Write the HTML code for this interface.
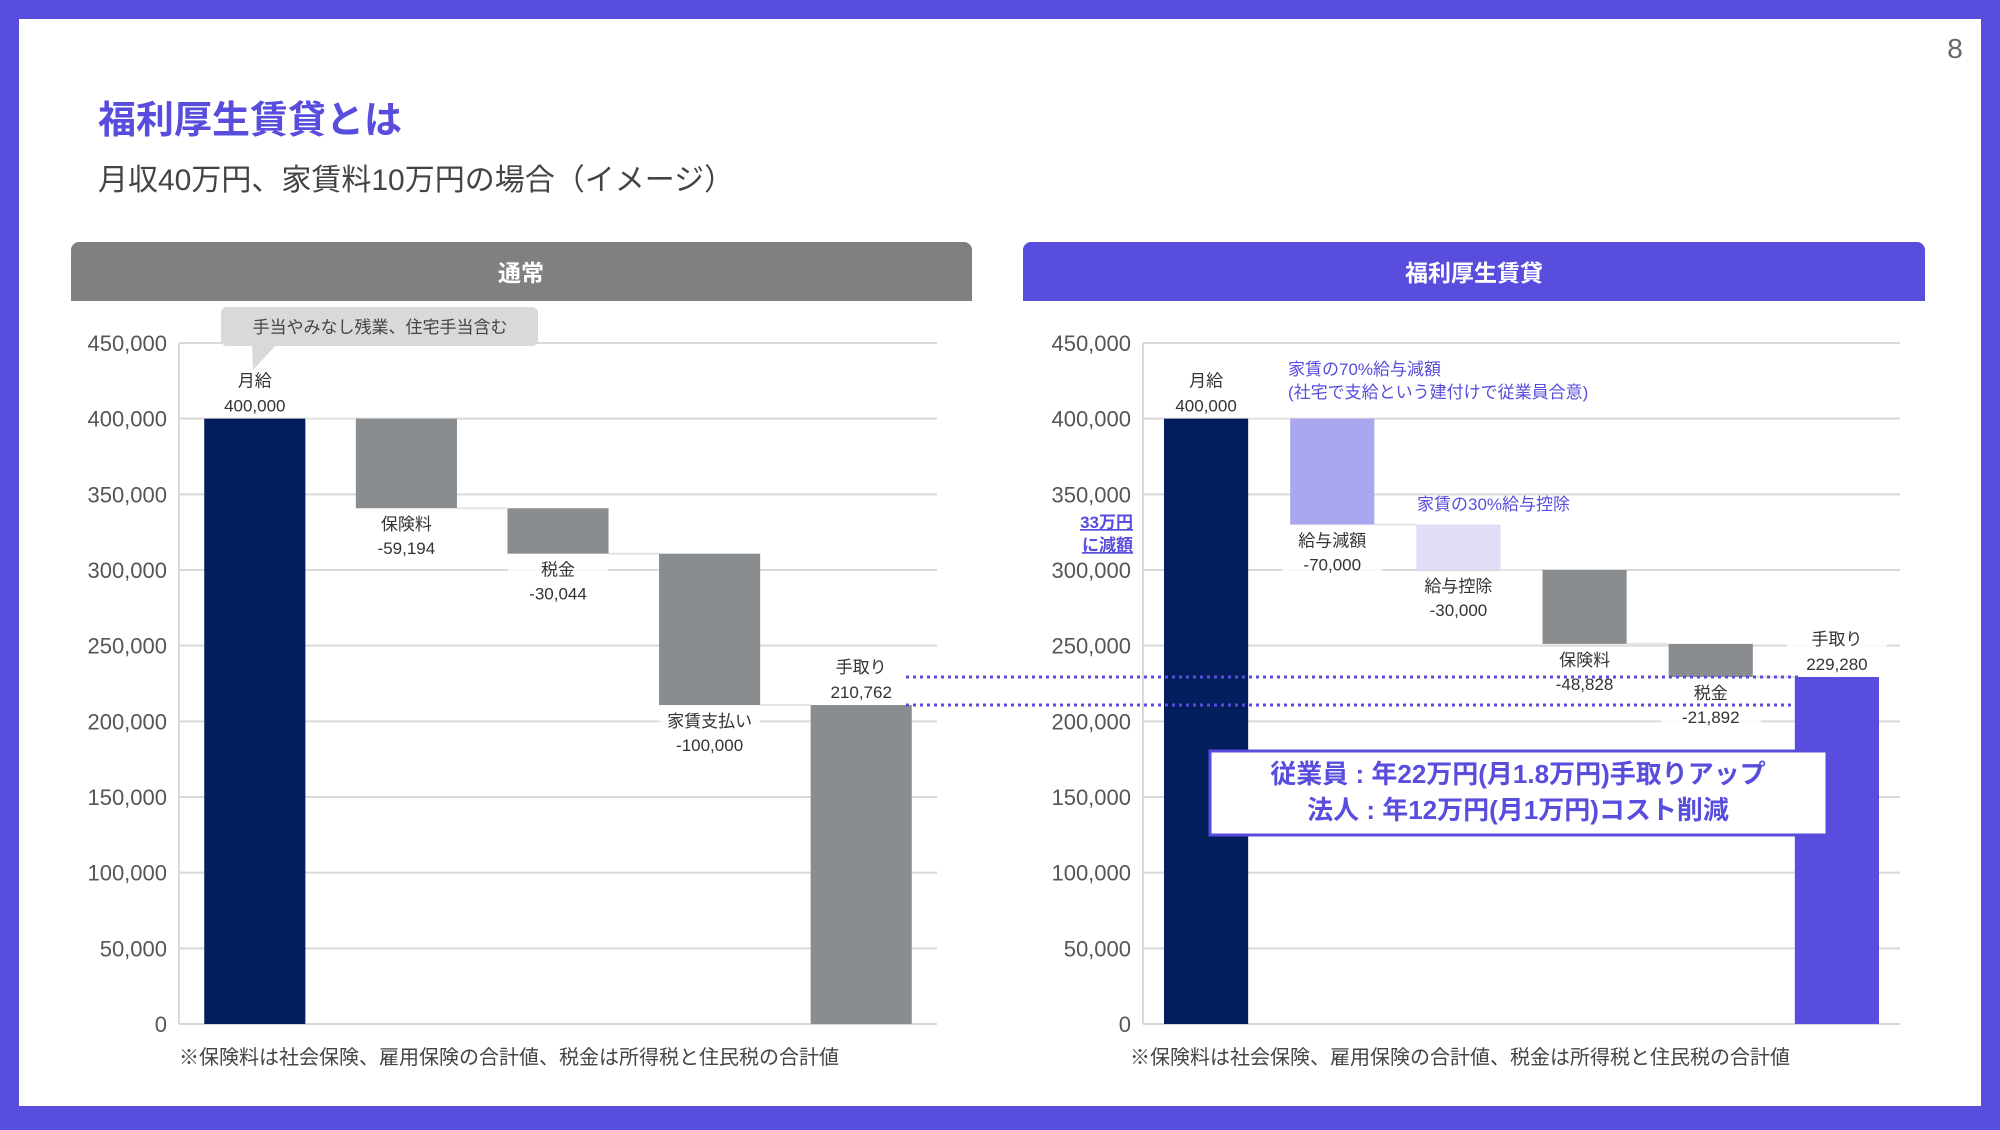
<!DOCTYPE html>
<html><head><meta charset="utf-8">
<style>
html,body{margin:0;padding:0;}
body{width:2000px;height:1125px;overflow:hidden;background:#584ddc;font-family:"Liberation Sans","Noto Sans CJK JP",sans-serif;}
svg text{font-family:"Liberation Sans","Noto Sans CJK JP",sans-serif;}
</style></head>
<body>
<svg id="page" width="2000" height="1125" viewBox="0 0 2000 1125" xmlns="http://www.w3.org/2000/svg">
<rect x="0" y="0" width="2000" height="1125" fill="#584ddc"/>
<rect x="19" y="19" width="1962" height="1087" fill="#ffffff"/>
<text x="1955" y="58" font-size="28" fill="#666" text-anchor="middle">8</text>
<text x="98" y="133" font-size="38" font-weight="bold" fill="#584ddc">福利厚生賃貸とは</text>
<text x="98" y="190" font-size="30" fill="#444">月収40万円、家賃料10万円の場合（イメージ）</text>

<rect x="71" y="242" width="901" height="59" rx="8" fill="#808080"/>
<rect x="71" y="280" width="901" height="21" fill="#808080"/>
<text x="521" y="281" font-size="23" font-weight="bold" fill="#fff" text-anchor="middle">通常</text>
<rect x="1023" y="242" width="902" height="59" rx="8" fill="#584ddc"/>
<rect x="1023" y="280" width="902" height="21" fill="#584ddc"/>
<text x="1474" y="281" font-size="23" font-weight="bold" fill="#fff" text-anchor="middle">福利厚生賃貸</text>

<g id="left"></g>
<g id="right"></g>
<g id="overlay"></g>

<text x="179" y="1064" font-size="20" fill="#444">※保険料は社会保険、雇用保険の合計値、税金は所得税と住民税の合計値</text>
<text x="1130" y="1064" font-size="20" fill="#444">※保険料は社会保険、雇用保険の合計値、税金は所得税と住民税の合計値</text>
</svg>
<script>
const yTicks = [0, 50000, 100000, 150000, 200000, 250000, 300000, 350000, 400000, 450000];
const leftCategories = ["月給", "保険料", "税金", "家賃支払い", "手取り"];
const leftValues = [400000, -59194, -30044, -100000, 210762];
const leftTypes = ["start", "delta", "delta", "delta", "total"];
const rightCategories = ["月給", "給与減額", "給与控除", "保険料", "税金", "手取り"];
const rightValues = [400000, -70000, -30000, -48828, -21892, 229280];
const rightTypes = ["start", "delta", "delta", "delta", "delta", "total"];
const rightColors = ["#021e5c", "#aba7ee", "#dfddf8", "#8a8d90", "#8a8d90", "#584ddc"];
const leftColors = ["#021e5c", "#8a8d90", "#8a8d90", "#8a8d90", "#8a8d90"];

const NS = "http://www.w3.org/2000/svg";
function mk(tag, attrs, parent) {
  const e = document.createElementNS(NS, tag);
  for (const k in attrs) e.setAttribute(k, attrs[k]);
  parent.appendChild(e);
  return e;
}
const yTop = 343, yBot = 1024, yMax = 450000;
function yScale(v) { return yBot - (v / yMax) * (yBot - yTop); }
function fmt(v) { return v.toLocaleString("en-US"); }

function drawChart(g, x0, x1, cats, vals, types, colors, axisName) {
  yTicks.forEach(t => {
    const y = yScale(t);
    const l = mk("line", {x1: x0, x2: x1, y1: y, y2: y, stroke: "#d9d9d9", "stroke-width": 2}, g);
    
    
    const tx = mk("text", {x: x0 - 12, y: y + 8, "font-size": 22, fill: "#555", "text-anchor": "end"}, g);
    tx.textContent = fmt(t);
    
    
  });
  const ax = mk("line", {x1: x0, x2: x0, y1: yTop, y2: yBot, stroke: "#d9d9d9", "stroke-width": 2}, g);
  
  
  const band = (x1 - x0) / cats.length, bw = band * 0.667;
  let run = 0;
  const bars = [];
  cats.forEach((c, i) => {
    let top, bottom;
    if (types[i] === "start" || types[i] === "total") { top = vals[i]; bottom = 0; run = vals[i]; }
    else { top = run; bottom = run + vals[i]; run = bottom; }
    const cx = x0 + (i + 0.5) * band;
    const r = mk("rect", {x: cx - bw / 2, y: yScale(top), width: bw, height: yScale(bottom) - yScale(top), fill: colors[i]}, g);
    
    
    bars.push({cx, top, bottom});
  });
  for (let i = 0; i < bars.length - 1; i++) {
    const lvl = bars[i].bottom === 0 ? bars[i].top : bars[i].bottom;
    const cl = mk("line", {x1: bars[i].cx + bw / 2, x2: bars[i + 1].cx - bw / 2, y1: yScale(lvl), y2: yScale(lvl), stroke: "#e4e4e4", "stroke-width": 2}, g);
    
    
  }
  bars.forEach((b, i) => {
    let y1, y2;
    if (types[i] === "delta") { y1 = yScale(b.bottom) + 22; y2 = y1 + 24; }
    else { y2 = yScale(b.top) - 7; y1 = y2 - 25; }
    const bg = mk("rect", {x: b.cx - 50, y: y1 - 19, width: 100, height: 50, fill: "#fff", opacity: 0.85}, g);
    
    
    const t1 = mk("text", {x: b.cx, y: y1, "font-size": 17, fill: "#333", "text-anchor": "middle"}, g);
    t1.textContent = cats[i];
    
    
    const t2 = mk("text", {x: b.cx, y: y2, "font-size": 17, fill: "#333", "text-anchor": "middle"}, g);
    t2.textContent = fmt(vals[i]);
    
    
  });
}
drawChart(document.getElementById("left"), 179, 937, leftCategories, leftValues, leftTypes, leftColors, 'normal-y-axis');
drawChart(document.getElementById("right"), 1143, 1900, rightCategories, rightValues, rightTypes, rightColors, 'benefit-y-axis');

const ov = document.getElementById("overlay");
[leftValues[leftValues.length - 1], rightValues[rightValues.length - 1]].forEach(v => {
  const d = mk("line", {x1: 906, x2: 1798, y1: yScale(v), y2: yScale(v), stroke: "#584ddc", "stroke-width": 3, "stroke-dasharray": "3 4"}, ov);
  
  
});
</script>
<svg style="position:absolute;left:0;top:0" width="2000" height="1125">
<g>
<rect x="221" y="307" width="317" height="39" rx="6" fill="#d9d9d9"/>
<polygon points="252,345 276,345 253,370" fill="#d9d9d9"/>
<text x="380" y="333" font-size="17" fill="#444" text-anchor="middle">手当やみなし残業、住宅手当含む</text>
</g>
<text x="1288" y="375" font-size="17" fill="#584ddc">家賃の70%給与減額</text>
<text x="1288" y="398" font-size="17" fill="#584ddc">(社宅で支給という建付けで従業員合意)</text>
<text x="1417" y="510" font-size="17" fill="#584ddc">家賃の30%給与控除</text>
<text x="1133" y="528" font-size="17" font-weight="bold" fill="#584ddc" text-anchor="end" text-decoration="underline">33万円</text>
<text x="1133" y="551" font-size="17" font-weight="bold" fill="#584ddc" text-anchor="end" text-decoration="underline">に減額</text>
<g>
<rect x="1210" y="751" width="617" height="84" fill="#fff" stroke="#584ddc" stroke-width="3"/>
<text x="1518" y="783" font-size="26" font-weight="bold" fill="#584ddc" text-anchor="middle">従業員 : 年22万円(月1.8万円)手取りアップ</text>
<text x="1518" y="819" font-size="26" font-weight="bold" fill="#584ddc" text-anchor="middle">法人 : 年12万円(月1万円)コスト削減</text>
</g>
</svg>
</body></html>
